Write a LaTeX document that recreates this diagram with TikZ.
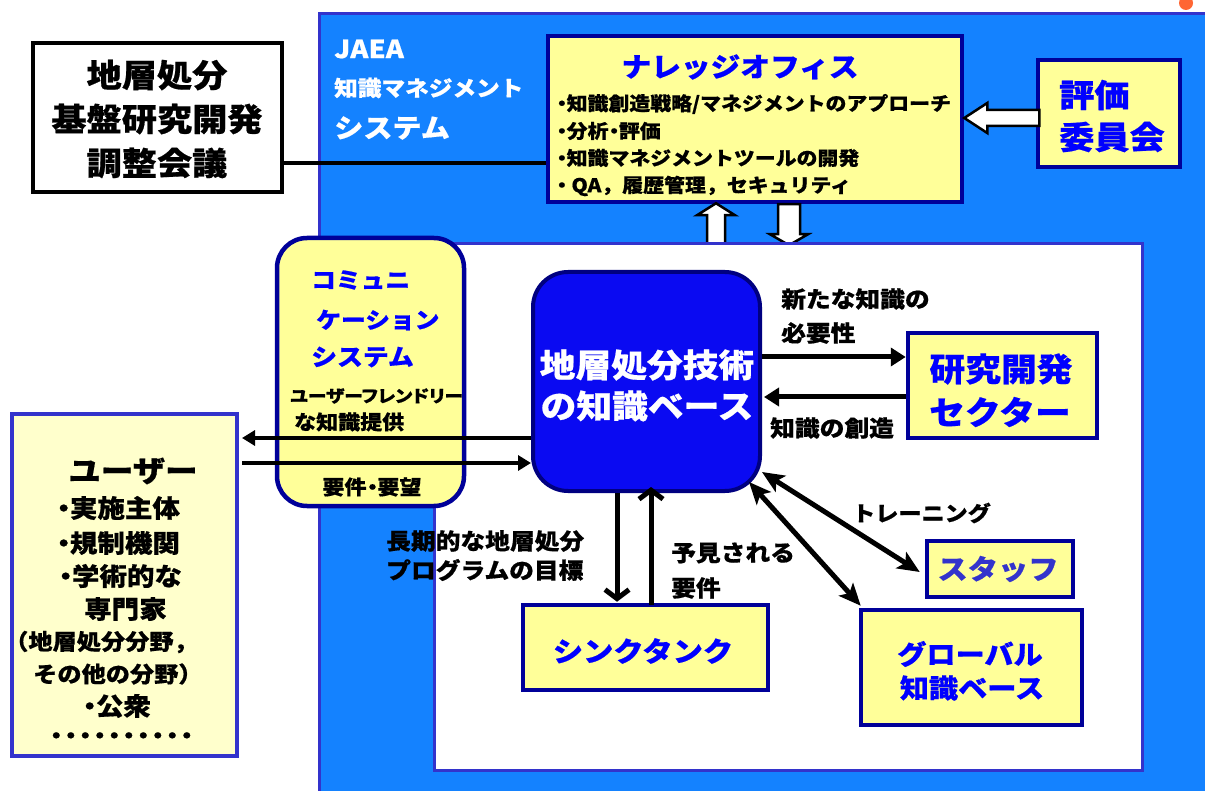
\documentclass[tikz,border=0pt]{standalone}
\usepackage{fontspec}
\setmainfont{Noto Sans CJK JP}[FakeStretch=1.1, BoldFeatures={FakeBold=0.6}]
\usetikzlibrary{arrows.meta,calc}
\definecolor{jblue}{HTML}{1482FF}
\definecolor{jborder}{HTML}{3333CC}
\definecolor{navy}{HTML}{000099}
\definecolor{kbnavy}{HTML}{000080}
\definecolor{ylw}{HTML}{FFFF99}
\definecolor{ltylw}{HTML}{FFFFCC}
\definecolor{txtblue}{HTML}{0000FF}
\definecolor{kbblue}{HTML}{0A0AF2}
\definecolor{orng}{HTML}{FF6633}
\newcommand{\jfs}[1]{\fontsize{#1}{#1}\selectfont}
\newcommand{\bul}{\kern-0.25em・\kern-0.3em}
\tikzset{
  ybox/.style={draw=navy, line width=4.5pt, fill=ylw, inner sep=0pt},
  txt/.style={inner sep=0pt, text=black, font=\bfseries\jfs{#1}},
  ttl/.style={inner sep=0pt, text=txtblue, font=\bfseries\jfs{#1}},
  wtxt/.style={inner sep=0pt, text=white, font=\bfseries\jfs{#1}},
  hollow/.style={fill=white, draw=black, line width=2.5pt, line join=miter},
  harr/.style={line width=5pt, -{Triangle[length=15pt,width=18pt]}},
  sarr/.style={line width=4.5pt, -{Triangle[length=13pt,width=15pt]}},
  varr/.style={line width=5pt, -{Straight Barb[length=9pt,width=24pt]}},
  darr/.style={line width=5pt, {Stealth[length=22pt,width=19pt,inset=5pt]}-{Stealth[length=22pt,width=19pt,inset=5pt]}},
}
\begin{document}
\begin{tikzpicture}[x=1pt,y=-1pt]
\useasboundingbox (0,0) rectangle (1205,791);
\fill[white] (0,0) rectangle (1205,791);
% JAEA frame
\draw[jborder, line width=3pt, fill=jblue] (319.5,13.5) rectangle (1220,805);
\fill[orng] (1186,3) circle (7pt);
\node[wtxt=25, anchor=west] (jaea1) at (334,49) {JAEA};
\node[wtxt=21.5, anchor=west] (jaea2) at (334,88) {知識マネジメント};
\node[wtxt=26.5, anchor=west] (jaea3) at (334,128) {システム};
% coordinating council
\coordinate (ycouncil) at (0,163);
\node[draw=black, line width=4pt, fill=white, minimum width=249pt, minimum height=149pt, inner sep=0pt] (council) at (157.5,117.5) {};
\draw[line width=4pt] (council.east |- ycouncil) -- (548,163) coordinate (officeleft);
\node[txt=32, align=center, font=\bfseries\fontsize{32}{44}\selectfont] (counciltext) at (157,119) {地層処分\\基盤研究開発\\調整会議};
% knowledge office
\node[ybox, minimum width=414pt, minimum height=166pt] (office) at (755,119) {};
\node[ttl=27] (officettl) at (740,67) {ナレッジオフィス};
\node[txt=19, anchor=west] (ob1) at (556,104) {\bul 知識創造戦略/マネジメントのアプローチ};
\node[txt=19, anchor=west] (ob2) at (556,131) {\bul 分析\bul 評価};
\node[txt=19, anchor=west] (ob3) at (556,158) {\bul 知識マネジメントツールの開発};
\node[txt=19, anchor=west] (ob4) at (556,186) {\bul\ QA，履歴管理，セキュリティ};
% evaluation committee
\node[ybox, minimum width=142pt, minimum height=107pt] (eval) at (1109,113.5) {};
\node[ttl=32, anchor=west] (eval1) at (1059,95) {評価};
\node[ttl=32, anchor=west] (eval2) at (1059,137) {委員会};
\coordinate (yeval) at (0,118);
\draw[hollow] (office.east |- yeval) -- ++(23,-15) -- ++(0,7) -- ++(52,0) -- ++(0,16) -- ++(-52,0) -- ++(0,7) -- cycle;
% up / down white arrows
\coordinate (xup) at (716,0);
\coordinate (xdown) at (789,0);
\draw[hollow] (office.south -| xup) ++(0,-1) -- ++(19,12) -- ++(-10,0) -- ++(0,31) -- ++(-18,0) -- ++(0,-31) -- ++(-10,0) -- cycle;
\draw[hollow] (office.south -| xdown) ++(-11,0) -- ++(22,0) -- ++(0,30) -- ++(8,0) -- ++(-19,11) -- ++(-19,-11) -- ++(8,0) -- cycle;
% inner white area
\draw[jborder, line width=3pt, fill=white] (434,244) rectangle (1142,770);
% communication system
\node[draw=navy, line width=4.5pt, fill=ylw, rounded corners=30pt, minimum width=187pt, minimum height=268pt, inner sep=0pt] (comm) at (370.5,372) {};
\node[ttl=22.5, anchor=west] (comm1) at (311,280) {コミュニ};
\node[ttl=22.5, anchor=west] (comm2) at (316,320) {ケーション};
\node[ttl=23.5, anchor=west] (comm3) at (311,357) {システム};
\node[txt=17, anchor=west, font=\bfseries\jfs{17}\addfontfeatures{RawFeature=+palt}] (comm4) at (290,396) {ユーザーフレンドリー};
\node[txt=20, anchor=west] (comm5) at (294,422) {な知識提供};
\node[txt=20] (comm6) at (372,487) {要件\bul 要望};
% knowledge base
\node[draw=kbnavy, line width=4pt, fill=kbblue, rounded corners=35pt, minimum width=227pt, minimum height=219pt, inner sep=0pt] (kb) at (646.5,381.5) {};
\node[inner sep=0pt, text=white, font=\bfseries\jfs{32.5}] (kb1) at (647,365) {地層処分技術};
\node[inner sep=0pt, text=white, font=\bfseries\jfs{32.5}] (kb2) at (647,406) {の知識ベース};
% users
\node[draw=jborder, line width=4pt, fill=ltylw, minimum width=225pt, minimum height=342pt, inner sep=0pt] (user) at (124.5,585) {};
\node[txt=29.5] (u0) at (133,471) {ユーザー};
\node[txt=25, anchor=west] (u1) at (56,508) {\bul 実施主体};
\node[txt=25, anchor=west] (u2) at (56,543) {\bul 規制機関};
\node[txt=25, anchor=west] (u3) at (58,576) {\bul 学術的な};
\node[txt=25, anchor=west] (u4) at (84,609) {専門家};
\node[txt=22, anchor=west] (u5) at (4,642) {（地層処分分野，};
\node[txt=22, anchor=west] (u6) at (33,674) {その他の分野）};
\node[txt=25, anchor=west] (u7) at (82,706) {\bul 公衆};
\node[txt=22, anchor=west] (u8) at (44,738) {・\kern-9.7pt・\kern-9.7pt・\kern-9.7pt・\kern-9.7pt・\kern-9.7pt・\kern-9.7pt・\kern-9.7pt・\kern-9.7pt・\kern-9.7pt・};
\coordinate (yu1) at (0,438);
\coordinate (yu2) at (0,463);
\draw[sarr] (kb.west |- yu1) -- ([xshift=3pt]user.east |- yu1);
\draw[sarr] ([xshift=3pt]user.east |- yu2) -- (kb.west |- yu2);
% research sector
\node[ybox, minimum width=189pt, minimum height=105pt] (rd) at (1002.5,385.5) {};
\node[ttl=32.5] (rd1) at (1001,369) {研究開発};
\node[ttl=32.5] (rd2) at (1000,412) {セクター};
\coordinate (yr1) at (0,357);
\coordinate (yr2) at (0,397);
\draw[harr] (kb.east |- yr1) -- (rd.west |- yr1);
\draw[harr] (rd.west |- yr2) -- ([xshift=2pt]kb.east |- yr2);
\node[txt=22.5, anchor=west] (l1) at (781,299) {新たな知識の};
\node[txt=22.5, anchor=west] (l2) at (781,333) {必要性};
\node[txt=22.5, anchor=west] (l3) at (770,428) {知識の創造};
% think tank
\node[ybox, minimum width=245pt, minimum height=85pt] (tank) at (645.5,647.5) {};
\node[ttl=27.5] (tank1) at (643,651) {シンクタンク};
\coordinate (xt1) at (617,0);
\coordinate (xt2) at (651,0);
\draw[varr] (kb.south -| xt1) -- ([yshift=1pt]tank.north -| xt1);
\draw[varr] ([yshift=-2pt]tank.north -| xt2) -- ([yshift=6pt]kb.south -| xt2);
\node[txt=22.5, anchor=west] (l4) at (386,541) {長期的な地層処分};
\node[txt=22.5, anchor=west] (l5) at (386,570) {プログラムの目標};
\node[txt=22.5, anchor=west] (l6) at (671,553) {予見される};
\node[txt=22.5, anchor=west] (l7) at (671,588) {要件};
% staff and global knowledge base
\node[ybox, minimum width=146pt, minimum height=56pt] (staff) at (1000,569) {};
\node[inner sep=0pt, text=jborder, font=\bfseries\jfs{27.5}] (staff1) at (998,569) {スタッフ};
\node[ybox, minimum width=221pt, minimum height=115pt] (global) at (971.5,667.5) {};
\node[ttl=26.5] (g1) at (970,654) {グローバル};
\node[ttl=26.5] (g2) at (972,688) {知識ベース};
\draw[darr] ([shift={(0,-21)}]kb.south east) -- ([shift={(-5,3)}]staff.west);
\draw[darr] ([shift={(-13,-11)}]kb.south east) -- ([shift={(2,-2)}]global.north west);
\node[txt=21, anchor=west] (l8) at (852,513) {トレーニング};
\end{tikzpicture}
\end{document}
